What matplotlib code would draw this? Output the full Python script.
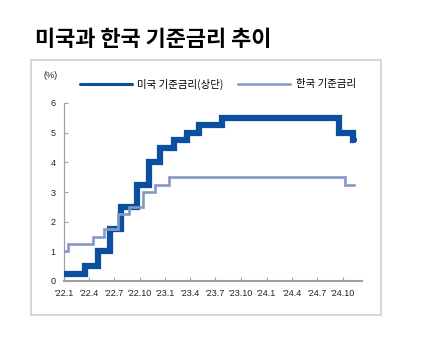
import numpy as np
import pandas as pd
import matplotlib
matplotlib.use("Agg")
import matplotlib.pyplot as plt
from matplotlib.patches import Rectangle

plt.rcParams['font.family'] = ['Liberation Sans', 'Noto Sans CJK KR']
KR = ['Noto Sans CJK KR', 'DejaVu Sans']

# Policy rate decisions (date the new rate takes effect, rate in %)
us_dates = ["2022-01-01", "2022-03-16", "2022-05-04", "2022-06-15", "2022-07-27",
            "2022-09-21", "2022-11-02", "2022-12-14", "2023-02-01", "2023-03-22",
            "2023-05-03", "2023-07-26", "2024-09-18", "2024-11-07", "2024-11-10"]
us_rates = [0.25, 0.50, 1.00, 1.75, 2.50, 3.25, 4.00, 4.50, 4.75, 5.00,
            5.25, 5.50, 5.00, 4.75, 4.75]

kr_dates = ["2022-01-01", "2022-01-14", "2022-04-14", "2022-05-26", "2022-07-13",
            "2022-08-25", "2022-10-12", "2022-11-24", "2023-01-13", "2024-10-11",
            "2024-11-10"]
kr_rates = [1.00, 1.25, 1.50, 1.75, 2.25, 2.50, 3.00, 3.25, 3.50, 3.25, 3.25]

tick_months = pd.date_range("2022-01-01", "2024-10-01", freq="3MS")
tick_labels = ["'%02d.%d" % (d.year % 100, d.month) for d in tick_months]

us_color = "#0b4f9e"
kr_color = "#8498c8"

fig = plt.figure(figsize=(4.24, 3.41), dpi=100)

# outer frame around the chart
fig.patches.append(Rectangle((31 / 424, 1 - 315 / 341), 350 / 424, 255 / 341,
                             transform=fig.transFigure, fill=False,
                             edgecolor="#cfcfcf", linewidth=1.2))

fig.text(35 / 424, 1 - 40 / 341, "미국과 한국 기준금리 추이", family=KR,
         fontsize=15.8, fontweight="bold", va="center", ha="left")

ax = fig.add_axes([64 / 424, 1 - 281 / 341, 298 / 424, 178 / 341])

ax.plot(pd.to_datetime(us_dates), us_rates, drawstyle="steps-post",
        color=us_color, linewidth=4.5, solid_joinstyle="miter",
        solid_capstyle="round", label="미국 기준금리(상단)", zorder=3)
ax.plot(pd.to_datetime(kr_dates), kr_rates, drawstyle="steps-post",
        color=kr_color, linewidth=1.9, solid_joinstyle="miter",
        label="한국 기준금리", zorder=4)

ax.set_xlim(pd.Timestamp("2022-01-01"), pd.Timestamp("2024-12-10"))
ax.set_ylim(0, 6)
ax.set_yticks(range(0, 7))
ax.set_xticks(tick_months)
ax.set_xticklabels(tick_labels)

for s in ["top", "right"]:
    ax.spines[s].set_visible(False)
ax.spines["bottom"].set_color("#a0a0a0")
ax.spines["bottom"].set_linewidth(1.5)
ax.spines["left"].set_color("#a0a0a0")
ax.spines["left"].set_linewidth(0.9)
ax.tick_params(axis="x", direction="in", length=3, color="#a0a0a0",
               labelsize=6.5, pad=6, labelcolor="#222222")
ax.tick_params(axis="y", direction="in", length=3, color="#a0a0a0",
               labelsize=6.5, pad=6, labelcolor="#222222")

fig.text(51 / 424, 1 - 76 / 341, "(%)", fontsize=6.5, ha="center", va="center",
         color="#222222")

leg = ax.legend(loc="center left", bbox_to_anchor=(80 / 424, 1 - 84 / 341),
                bbox_transform=fig.transFigure, ncol=2, frameon=False,
                prop={"family": KR, "size": 7.5}, handlelength=5,
                handletextpad=0.5, columnspacing=1.4, borderpad=0,
                borderaxespad=0)
leg.get_lines()[0].set_linewidth(2.2)
leg.get_lines()[1].set_linewidth(1.8)

fig.savefig("out.png", dpi=100)
